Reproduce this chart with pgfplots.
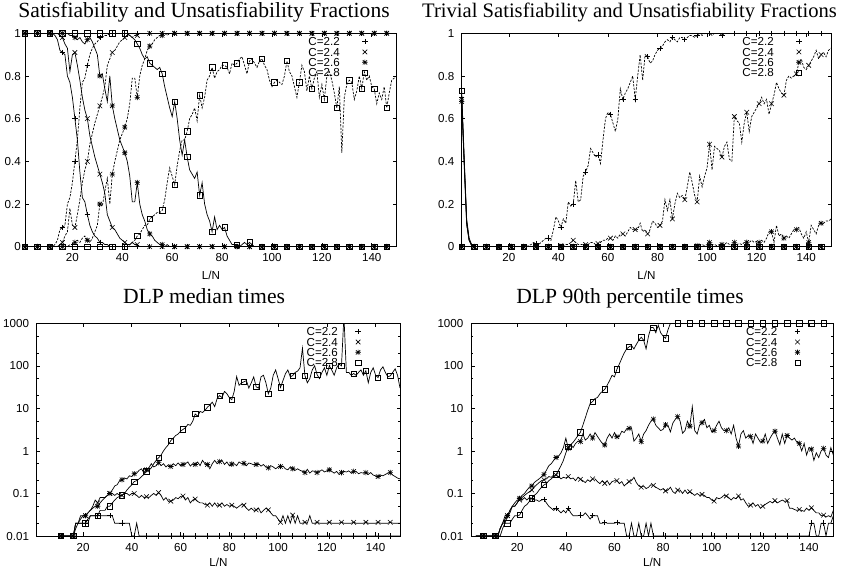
\documentclass[border=0pt]{standalone}
\usepackage{fontspec}
\setmainfont{Liberation Serif}
\newfontfamily\lsans{Liberation Sans}
\usepackage{pgfplots}
\usepackage{pgfplotstable}
\pgfplotsset{compat=1.18}

\newcommand\tfont{\lsans\fontsize{11.6bp}{12bp}\selectfont}
\newcommand\hfont{\fontsize{21.6bp}{24bp}\selectfont}

% gnuplot-style marks: asterisk (plus and cross together) and a full-size cross
\pgfdeclareplotmark{gpstar}{%
  \pgfpathmoveto{\pgfqpoint{-\pgfplotmarksize}{0pt}}\pgfpathlineto{\pgfqpoint{\pgfplotmarksize}{0pt}}%
  \pgfpathmoveto{\pgfqpoint{0pt}{-\pgfplotmarksize}}\pgfpathlineto{\pgfqpoint{0pt}{\pgfplotmarksize}}%
  \pgfpathmoveto{\pgfqpoint{-0.8\pgfplotmarksize}{-0.8\pgfplotmarksize}}\pgfpathlineto{\pgfqpoint{0.8\pgfplotmarksize}{0.8\pgfplotmarksize}}%
  \pgfpathmoveto{\pgfqpoint{-0.8\pgfplotmarksize}{0.8\pgfplotmarksize}}\pgfpathlineto{\pgfqpoint{0.8\pgfplotmarksize}{-0.8\pgfplotmarksize}}%
  \pgfusepathqstroke}
\pgfdeclareplotmark{gpx}{%
  \pgfpathmoveto{\pgfqpoint{-0.85\pgfplotmarksize}{-0.85\pgfplotmarksize}}\pgfpathlineto{\pgfqpoint{0.85\pgfplotmarksize}{0.85\pgfplotmarksize}}%
  \pgfpathmoveto{\pgfqpoint{-0.85\pgfplotmarksize}{0.85\pgfplotmarksize}}\pgfpathlineto{\pgfqpoint{0.85\pgfplotmarksize}{-0.85\pgfplotmarksize}}%
  \pgfusepathqstroke}

% Satisfiability (s) and unsatisfiability (u) fractions
% a=u(2.2) b=s(2.2) c=u(2.4) d=s(2.4) e=u(2.6) f=s(2.6) g=u(2.8) h=s(2.8)
\pgfplotstableread{
x a b c d e f g h
1 1 0 1 0 1 0 1 0
6 1 0 1 0 1 0 1 0
11 1 0 1 0 1 0 1 0
12 1 0 1 0 1 0 1 0
13 0.99 0.01 1 0 1 0 1 0
14 0.97 0.03 1 0 1 0 1 0
15 0.92 0.08 0.99 0.01 1 0 1 0
16 0.91 0.09 0.98 0.02 1 0 1 0
17 0.9 0.1 0.95 0.05 1 0 1 0
18 0.8 0.2 0.93 0.07 1 0 1 0
19 0.77 0.23 0.82 0.18 0.99 0.01 1 0
20 0.7 0.3 0.9 0.1 0.99 0.01 1 0
21 0.6 0.4 0.91 0.09 0.98 0.02 1 0
22 0.5 0.5 0.85 0.15 0.97 0.03 1 0
23 0.35 0.65 0.78 0.22 0.98 0.02 1 0
24 0.23 0.77 0.7 0.3 0.96 0.04 1 0
25 0.21 0.79 0.64 0.36 0.95 0.05 1 0
26 0.15 0.85 0.6 0.4 0.97 0.03 1 0
27 0.1 0.9 0.52 0.48 0.98 0.02 1 0
28 0.07 0.93 0.47 0.53 0.96 0.04 1 0
29 0.05 0.95 0.42 0.58 0.93 0.07 1 0
30 0.04 0.96 0.38 0.62 0.9 0.1 1 0
31 0.02 0.98 0.34 0.66 0.8 0.2 1 0
32 0.02 0.98 0.3 0.7 0.81 0.19 1 0
33 0.01 0.99 0.25 0.75 0.74 0.26 1 0
34 0.01 0.99 0.15 0.85 0.68 0.32 1 0
35 0 1 0.12 0.88 0.8 0.2 1 0
36 0 1 0.09 0.91 0.66 0.34 1 0
37 0 1 0.08 0.92 0.6 0.4 1 0
38 0 1 0.06 0.94 0.55 0.45 1 0
39 0 1 0.04 0.96 0.5 0.5 1 0
40 0 1 0.03 0.97 0.47 0.53 1 0
41 0 1 0.02 0.98 0.44 0.56 1 0
42 0 1 0.01 0.99 0.4 0.6 1 0
43 0 1 0.01 0.99 0.33 0.67 0.99 0.01
44 0 1 0.02 0.98 0.21 0.79 0.98 0.02
45 0 1 0.01 0.99 0.21 0.79 0.97 0.03
46 0 1 0.01 0.99 0.3 0.7 0.95 0.05
47 0 1 0 1 0.2 0.8 0.93 0.06
48 0 1 0 1 0.15 0.85 0.9 0.08
49 0 1 0 1 0.12 0.88 0.88 0.1
50 0 1 0 1 0.08 0.92 0.89 0.1
51 0 1 0 1 0.06 0.94 0.86 0.13
52 0 1 0 1 0.05 0.95 0.85 0.14
53 0 1 0 1 0.03 0.97 0.84 0.15
54 0 1 0 1 0.02 0.98 0.83 0.16
55 0 1 0 1 0.01 0.99 0.84 0.16
56 0 1 0 1 0.01 0.99 0.81 0.17
57 0 1 0 1 0 1 0.75 0.22
58 0 1 0 1 0.01 0.99 0.7 0.3
59 0 1 0 1 0 1 0.65 0.37
60 0 1 0 1 0 1 0.61 0.33
61 0 1 0 1 0 1 0.68 0.29
62 0 1 0 1 0 1 0.6 0.38
63 0 1 0 1 0 1 0.5 0.45
64 0 1 0 1 0 1 0.43 0.5
65 0 1 0 1 0 1 0.5 0.5
66 0 1 0 1 0 1 0.42 0.54
67 0 1 0 1 0 1 0.36 0.6
68 0 1 0 1 0 1 0.34 0.62
69 0 1 0 1 0 1 0.32 0.65
70 0 1 0 1 0 1 0.35 0.59
71 0 1 0 1 0 1 0.24 0.71
72 0 1 0 1 0 1 0.3 0.65
73 0 1 0 1 0 1 0.2 0.7
74 0 1 0 1 0 1 0.15 0.78
75 0 1 0 1 0 1 0.12 0.8
76 0 1 0 1 0 1 0.07 0.84
77 0 1 0 1 0 1 0.14 0.79
78 0 1 0 1 0 1 0.08 0.82
79 0 1 0 1 0 1 0.1 0.83
80 0 1 0 1 0 1 0.08 0.85
81 0 1 0 1 0 1 0.09 0.85
82 0 1 0 1 0 1 0.05 0.84
83 0 1 0 1 0 1 0.03 0.81
84 0 1 0 1 0 1 0.01 0.86
85 0 1 0 1 0 1 0.01 0.85
86 0 1 0 1 0 1 0.01 0.86
87 0 1 0 1 0 1 0 0.88
88 0 1 0 1 0 1 0.01 0.89
89 0 1 0 1 0 1 0.02 0.85
90 0 1 0 1 0 1 0.01 0.81
91 0 1 0 1 0 1 0.02 0.87
92 0 1 0 1 0 1 0.01 0.88
93 0 1 0 1 0 1 0 0.86
94 0 1 0 1 0 1 0 0.84
95 0 1 0 1 0 1 0 0.87
96 0 1 0 1 0 1 0 0.88
97 0 1 0 1 0 1 0 0.85
98 0 1 0 1 0 1 0 0.83
99 0 1 0 1 0 1 0 0.78
100 0 1 0 1 0 1 0 0.75
101 0 1 0 1 0 1 0 0.77
102 0 1 0 1 0 1 0 0.78
103 0 1 0 1 0 1 0 0.77
104 0 1 0 1 0 1 0 0.76
105 0 1 0 1 0 1 0 0.8
106 0 1 0 1 0 1 0 0.87
107 0 1 0 1 0 1 0 0.82
108 0 1 0 1 0 1 0 0.8
109 0 1 0 1 0 1 0 0.75
110 0 1 0 1 0 1 0 0.7
111 0 1 0 1 0 1 0 0.77
112 0 1 0 1 0 1 0 0.85
113 0 1 0 1 0 1 0 0.82
114 0 1 0 1 0 1 0 0.73
115 0 1 0 1 0 1 0 0.8
116 0 1 0 1 0 1 0 0.74
117 0 1 0 1 0 1 0 0.79
118 0 1 0 1 0 1 0 0.82
119 0 1 0 1 0 1 0 0.7
120 0 1 0 1 0 1 0 0.76
121 0 1 0 1 0 1 0 0.69
122 0 1 0 1 0 1 0 0.8
123 0 1 0 1 0 1 0 0.82
124 0 1 0 1 0 1 0 0.78
125 0 1 0 1 0 1 0 0.72
126 0 1 0 1 0 1 0 0.65
127 0 1 0 1 0 1 0 0.75
128 0 1 0 1 0 1 0 0.44
129 0 1 0 1 0 1 0 0.7
130 0 1 0 1 0 1 0 0.76
131 0 1 0 1 0 1 0 0.78
132 0 1 0 1 0 1 0 0.77
133 0 1 0 1 0 1 0 0.69
134 0 1 0 1 0 1 0 0.73
135 0 1 0 1 0 1 0 0.8
136 0 1 0 1 0 1 0 0.74
137 0 1 0 1 0 1 0 0.82
138 0 1 0 1 0 1 0 0.78
139 0 1 0 1 0 1 0 0.8
140 0 1 0 1 0 1 0 0.75
141 0 1 0 1 0 1 0 0.74
142 0 1 0 1 0 1 0 0.67
143 0 1 0 1 0 1 0 0.72
144 0 1 0 1 0 1 0 0.69
145 0 1 0 1 0 1 0 0.75
146 0 1 0 1 0 1 0 0.65
147 0 1 0 1 0 1 0 0.72
148 0 1 0 1 0 1 0 0.78
149 0 1 0 1 0 1 0 0.79
150 0 1 0 1 0 1 0 0.8
}\tTL

% Trivial fractions: a-d solid (2.2,2.4,2.6,2.8), e-h dashed (2.2,2.4,2.6,2.8)
\pgfplotstableread{
x a b c d e f g h
1 0.7 0.69 0.68 0.73 0 0 0 0
2 0.4 0.38 0.4 0.42 0 0 0 0
3 0.11 0.1 0.12 0.13 0 0 0 0
4 0.03 0.03 0.03 0.04 0 0 0 0
5 0.005 0.005 0.01 0.01 0 0 0 0
6 0 0 0 0 0 0 0 0
11 0 0 0 0 0 0 0 0
16 0 0 0 0 0 0 0 0
21 0 0 0 0 0 0 0 0
26 0 0 0 0 0 0 0 0
27 0 0 0 0 0 0 0 0
28 0 0 0 0 0.005 0 0 0
29 0 0 0 0 0.01 0 0 0
30 0 0 0 0 0.02 0 0 0
31 0 0 0 0 0.015 0 0 0
32 0 0 0 0 0.01 0 0 0
33 0 0 0 0 0.02 0 0 0
34 0 0 0 0 0.03 0 0 0
35 0 0 0 0 0.04 0 0 0
36 0 0 0 0 0.04 0 0 0
37 0 0 0 0 0.03 0 0 0
38 0 0 0 0 0.08 0 0 0
39 0 0 0 0 0.14 0 0 0
40 0 0 0 0 0.12 0 0 0
41 0 0 0 0 0.09 0.005 0 0
42 0 0 0 0 0.13 0.005 0 0
43 0 0 0 0 0.11 0.01 0 0
44 0 0 0 0 0.21 0.01 0 0
45 0 0 0 0 0.19 0.02 0 0
46 0 0 0 0 0.2 0.03 0 0
47 0 0 0 0 0.31 0.02 0 0
48 0 0 0 0 0.21 0.01 0 0
49 0 0 0 0 0.22 0.01 0 0
50 0 0 0 0 0.33 0.01 0 0
51 0 0 0 0 0.35 0.01 0 0
52 0 0 0 0 0.38 0.01 0 0
53 0 0 0 0 0.46 0.02 0 0
54 0 0 0 0 0.44 0.02 0 0
55 0 0 0 0 0.42 0.01 0 0
56 0 0 0 0 0.43 0.015 0 0
57 0 0 0 0 0.39 0.02 0 0
58 0 0 0 0 0.5 0.03 0 0
59 0 0 0 0 0.6 0.03 0 0
60 0 0 0 0 0.63 0.04 0 0
61 0 0 0 0 0.62 0.04 0 0
62 0 0 0 0 0.58 0.03 0 0
63 0 0 0 0 0.54 0.05 0 0
64 0 0 0 0 0.6 0.04 0 0
65 0 0 0 0 0.74 0.06 0 0
66 0 0 0 0 0.69 0.06 0 0
67 0 0 0 0 0.72 0.05 0 0
68 0 0 0 0 0.74 0.07 0 0
69 0 0 0 0 0.77 0.09 0 0
70 0 0 0 0 0.8 0.08 0 0
71 0 0 0 0 0.69 0.08 0 0
72 0 0 0 0 0.8 0.08 0 0
73 0 0 0 0 0.9 0.11 0 0
74 0 0 0 0 0.78 0.07 0 0
75 0 0 0 0 0.9 0.08 0 0
76 0 0 0 0 0.89 0.06 0 0
77 0 0 0 0 0.86 0.08 0 0
78 0 0 0 0 0.87 0.12 0 0
79 0 0 0 0 0.9 0.11 0 0
80 0 0 0 0 0.92 0.09 0 0
81 0 0 0 0 0.93 0.1 0 0
82 0 0 0 0 0.94 0.12 0 0
83 0 0 0 0 0.96 0.22 0 0
84 0 0 0 0 0.97 0.17 0 0
85 0 0 0 0 0.96 0.22 0 0
86 0 0 0 0 0.98 0.13 0 0
87 0 0 0 0 0.97 0.2 0 0
88 0 0 0 0 0.96 0.25 0 0
89 0 0 0 0 0.98 0.23 0 0
90 0 0 0 0 0.98 0.24 0 0
91 0 0 0 0 0.97 0.22 0 0
92 0 0 0 0 0.98 0.28 0 0
93 0 0 0 0 0.99 0.35 0 0
94 0 0 0 0 0.99 0.3 0 0
95 0 0 0 0 0.98 0.24 0 0
96 0 0 0 0 0.99 0.21 0.005 0
97 0 0 0 0 1 0.33 0.01 0
98 0 0 0 0 0.99 0.28 0.01 0
99 0 0 0 0 1 0.33 0.005 0
100 0 0 0 0 1 0.37 0.01 0
101 0 0 0 0 1 0.48 0.02 0
102 0 0 0 0 0.99 0.36 0.01 0
103 0 0 0 0 1 0.47 0.01 0
104 0 0 0 0 1 0.46 0.005 0
105 0 0 0 0 1 0.45 0.01 0
106 0 0 0 0 0.99 0.42 0.01 0
107 0 0 0 0 1 0.47 0.01 0
108 0 0 0 0 1 0.49 0.02 0
109 0 0 0 0 1 0.41 0.01 0
110 0 0 0 0 1 0.4 0.01 0
111 0 0 0 0 1 0.61 0.02 0
112 0 0 0 0 1 0.59 0.01 0
113 0 0 0 0 1 0.58 0.015 0
114 0 0 0 0 1 0.49 0.01 0
115 0 0 0 0 1 0.58 0.02 0
116 0 0 0 0 1 0.63 0.02 0
117 0 0 0 0 1 0.54 0.02 0
118 0 0 0 0 1 0.61 0.03 0
119 0 0 0 0 1 0.63 0.02 0
120 0 0 0 0 1 0.65 0.025 0
121 0 0 0 0 1 0.67 0.02 0
122 0 0 0 0 1 0.7 0.03 0
123 0 0 0 0 1 0.67 0.02 0
124 0 0 0 0 1 0.69 0.04 0
125 0 0 0 0 1 0.62 0.07 0
126 0 0 0 0 1 0.67 0.07 0
127 0 0 0 0 1 0.71 0.02 0
128 0 0 0 0 1 0.77 0.1 0
129 0 0 0 0 1 0.74 0.05 0
130 0 0 0 0 1 0.72 0.06 0
131 0 0 0 0 1 0.71 0.04 0
132 0 0 0 0 1 0.78 0.05 0
133 0 0 0 0 1 0.8 0.04 0
134 0 0 0 0 1 0.79 0.06 0
135 0 0 0 0 1 0.8 0.08 0
136 0 0 0 0 1 0.81 0.08 0
137 0 0 0 0 1 0.86 0.09 0
138 0 0 0 0 1 0.88 0.06 0
139 0 0 0 0 1 0.84 0.04 0
140 0 0 0 0 1 0.83 0.07 0
141 0 0 0 0 1 0.85 0.02 0
142 0 0 0 0 1 0.87 0.1 0
143 0 0 0 0 1 0.89 0.08 0
144 0 0 0 0 1 0.92 0.06 0
145 0 0 0 0 1 0.88 0.1 0
146 0 0 0 0 1 0.9 0.11 0
147 0 0 0 0 1 0.91 0.11 0
148 0 0 0 0 1 0.89 0.12 0
149 0 0 0 0 1 0.92 0.12 0
150 0 0 0 0 1 0.93 0.13 0
}\tTR

% DLP median times: a=2.2 b=2.4 c=2.6 d=2.8
\pgfplotstableread{
x a b c d
10 0.01 0.01 0.01 0.01
11 0.01 0.01 0.01 0.01
12 0.01 0.01 0.01 0.01
13 0.01 0.01 0.01 0.01
14 0.01 0.01 0.01 0.01
15 0.01 0.01 0.01 0.01
16 0.01 0.01 0.01 0.01
17 0.02 0.02 0.02 0.015
18 0.02 0.02 0.02 0.02
19 0.02 0.03 0.025 0.02
20 0.02 0.03 0.03 0.02
21 0.02 0.03 0.03 0.02
22 0.02 0.035 0.035 0.025
23 0.03 0.04 0.04 0.03
24 0.03 0.05 0.045 0.03
25 0.03 0.07 0.05 0.03
26 0.03 0.06 0.05 0.03
27 0.03 0.08 0.06 0.04
28 0.03 0.08 0.07 0.04
29 0.03 0.08 0.08 0.04
30 0.03 0.09 0.09 0.05
31 0.03 0.1 0.1 0.05
32 0.03 0.1 0.12 0.06
33 0.02 0.09 0.15 0.07
34 0.02 0.1 0.16 0.08
35 0.02 0.09 0.2 0.085
36 0.02 0.09 0.21 0.09
37 0.02 0.1 0.23 0.1
38 0.02 0.1 0.22 0.12
39 0.02 0.09 0.26 0.14
40 0.01 0.1 0.25 0.16
41 0.01 0.1 0.29 0.19
42 0.02 0.09 0.3 0.2
43 0.01 0.08 0.35 0.22
44 0.01 0.09 0.38 0.25
45 0.01 0.08 0.3 0.28
46 0.01 0.084 0.36 0.33
47 0.01 0.08 0.4 0.35
48 0.01 0.09 0.5 0.4
49 0.01 0.1 0.42 0.5
50 0.01 0.09 0.45 0.6
51 0.01 0.105 0.53 0.69
52 0.01 0.09 0.45 0.8
53 0.01 0.07 0.5 1.0
54 0.01 0.08 0.42 1.2
55 0.01 0.065 0.47 1.4
56 0.01 0.066 0.43 1.75
57 0.01 0.07 0.5 2.0
58 0.01 0.08 0.45 2.3
59 0.01 0.075 0.52 2.5
60 0.01 0.085 0.45 2.9
61 0.01 0.087 0.48 3.2
62 0.01 0.07 0.5 3.5
63 0.01 0.08 0.55 4.2
64 0.01 0.06 0.44 4.0
65 0.01 0.07 0.5 5.0
66 0.01 0.074 0.48 7.4
67 0.01 0.065 0.55 6.5
68 0.01 0.06 0.45 8.5
69 0.01 0.06 0.6 8
70 0.01 0.055 0.5 9
71 0.01 0.053 0.48 10.6
72 0.01 0.06 0.38 12
73 0.01 0.05 0.5 14
74 0.01 0.06 0.6 11
75 0.01 0.05 0.5 17
76 0.01 0.053 0.56 20
77 0.01 0.06 0.6 18
78 0.01 0.05 0.48 25
79 0.01 0.055 0.55 22
80 0.01 0.05 0.45 18
81 0.01 0.053 0.49 16
82 0.01 0.05 0.5 25
83 0.01 0.045 0.45 56
84 0.01 0.05 0.55 35
85 0.01 0.055 0.5 40
86 0.01 0.053 0.51 42
87 0.01 0.045 0.45 45
88 0.01 0.04 0.52 30
89 0.01 0.045 0.5 40
90 0.01 0.04 0.47 55
91 0.01 0.041 0.48 32
92 0.01 0.045 0.5 30
93 0.01 0.035 0.44 55
94 0.01 0.04 0.48 60
95 0.01 0.045 0.42 40
96 0.01 0.041 0.4 22
97 0.01 0.035 0.45 30
98 0.01 0.03 0.42 60
99 0.01 0.03 0.38 80
100 0.01 0.025 0.42 50
101 0.01 0.021 0.43 31
102 0.01 0.03 0.44 45
103 0.01 0.02 0.38 65
104 0.01 0.03 0.36 80
105 0.01 0.02 0.42 55
106 0.01 0.031 0.38 59
107 0.01 0.02 0.35 70
108 0.01 0.03 0.38 75
109 0.01 0.02 0.35 90
110 0.01 0.02 0.33 260
111 0.01 0.021 0.31 59
112 0.01 0.02 0.37 40
113 0.01 0.03 0.3 50
114 0.01 0.02 0.34 80
115 0.01 0.02 0.33 100
116 0.01 0.021 0.31 62
117 0.01 0.02 0.33 50
118 0.01 0.02 0.36 70
119 0.01 0.02 0.32 90
120 0.01 0.02 0.34 60
121 0.01 0.021 0.36 100
122 0.01 0.02 0.33 80
123 0.01 0.02 0.3 60
124 0.01 0.02 0.33 90
125 0.01 0.02 0.28 110
126 0.01 0.021 0.31 100
127 0.01 0.02 0.33 1500
128 0.01 0.02 0.32 70
129 0.01 0.02 0.34 70
130 0.01 0.02 0.3 60
131 0.01 0.021 0.33 66
132 0.01 0.02 0.33 60
133 0.01 0.02 0.29 70
134 0.01 0.02 0.31 80
135 0.01 0.02 0.3 60
136 0.01 0.021 0.31 77
137 0.01 0.02 0.28 40
138 0.01 0.02 0.31 70
139 0.01 0.02 0.27 90
140 0.01 0.02 0.26 60
141 0.01 0.021 0.25 53
142 0.01 0.02 0.27 80
143 0.01 0.02 0.26 95
144 0.01 0.02 0.28 70
145 0.01 0.02 0.3 55
146 0.01 0.021 0.31 58
147 0.01 0.02 0.27 70
148 0.01 0.02 0.25 85
149 0.01 0.02 0.23 60
150 0.01 0.02 0.22 30
}\tBL

% DLP 90th percentile times: a=2.2 b=2.4 c=2.6 d=2.8
\pgfplotstableread{
x a b c d
3 0.01 0.01 0.01 0.01
4 0.01 0.01 0.01 0.01
5 0.01 0.01 0.01 0.01
6 0.01 0.01 0.01 0.01
7 0.01 0.01 0.01 0.01
8 0.01 0.01 0.01 0.01
9 0.01 0.01 0.01 0.01
10 0.01 0.01 0.01 0.01
11 0.01 0.01 0.01 0.01
12 0.01 0.01 0.01 0.01
13 0.015 0.015 0.015 0.01
14 0.02 0.02 0.02 0.015
15 0.02 0.03 0.025 0.02
16 0.03 0.03 0.03 0.02
17 0.04 0.04 0.035 0.02
18 0.05 0.05 0.05 0.025
19 0.05 0.06 0.05 0.03
20 0.06 0.07 0.06 0.03
21 0.075 0.07 0.077 0.031
22 0.07 0.08 0.09 0.04
23 0.08 0.09 0.1 0.05
24 0.07 0.1 0.12 0.055
25 0.08 0.11 0.14 0.065
26 0.077 0.12 0.15 0.077
27 0.07 0.14 0.18 0.09
28 0.07 0.16 0.2 0.1
29 0.065 0.18 0.22 0.12
30 0.07 0.2 0.25 0.14
31 0.073 0.21 0.28 0.158
32 0.06 0.22 0.35 0.17
33 0.05 0.25 0.45 0.2
34 0.045 0.24 0.5 0.22
35 0.04 0.27 0.6 0.25
36 0.045 0.27 0.7 0.28
37 0.04 0.25 0.75 0.35
38 0.035 0.22 0.9 0.45
39 0.04 0.24 1.2 0.6
40 0.035 0.23 2 0.9
41 0.045 0.25 1.15 1.26
42 0.035 0.22 1.4 1.4
43 0.03 0.23 1.2 1.6
44 0.03 0.2 1.5 1.9
45 0.03 0.24 1.7 2.3
46 0.031 0.215 1.66 2.76
47 0.03 0.2 2.5 4
48 0.035 0.18 1.8 6
49 0.03 0.21 2 9
50 0.025 0.19 2.5 13
51 0.03 0.22 2 14.5
52 0.03 0.22 2.7 17
53 0.03 0.19 2.2 18
54 0.02 0.17 1.8 22
55 0.02 0.2 1.5 25
56 0.021 0.173 1.38 28
57 0.02 0.2 2 35
58 0.02 0.16 2.5 45
59 0.02 0.19 2 60
60 0.02 0.2 2.7 55
61 0.021 0.2 2.15 83
62 0.02 0.17 2.2 110
63 0.02 0.19 2.9 150
64 0.02 0.15 2.7 200
65 0.01 0.17 3.3 250
66 0.01 0.19 3.4 280
67 0.02 0.2 3.5 300
68 0.01 0.24 1.7 250
69 0.01 0.18 2 320
70 0.02 0.15 2.5 400
71 0.01 0.14 1.66 470
72 0.01 0.15 2.5 400
73 0.02 0.13 3 250
74 0.01 0.14 4 500
75 0.02 0.16 5 800
76 0.01 0.155 5.6 790
77 0.01 0.14 4 600
78 0.01 0.13 3.5 900
79 0.01 0.12 3 600
80 0.01 0.13 3.2 500
81 0.01 0.115 4.1 445
82 0.01 0.12 4 700
83 0.01 0.14 2.8 1000
84 0.01 0.11 4.5 1000
85 0.01 0.1 5.5 1000
86 0.01 0.12 6.4 1000
87 0.01 0.12 5 1000
88 0.01 0.1 2.6 1000
89 0.01 0.12 3 1000
90 0.01 0.1 5 1000
91 0.01 0.11 3.8 1000
92 0.01 0.1 11 1000
93 0.01 0.09 3 1000
94 0.01 0.1 2.5 1000
95 0.01 0.09 4 1000
96 0.01 0.095 4.6 1000
97 0.01 0.09 5.5 1000
98 0.01 0.08 3.5 1000
99 0.01 0.08 4 1000
100 0.01 0.07 2.8 1000
101 0.01 0.066 3 1000
102 0.01 0.08 4 1000
103 0.01 0.075 5 1000
104 0.01 0.08 3.5 1000
105 0.01 0.09 3 1000
106 0.01 0.087 3 1000
107 0.01 0.08 3.5 1000
108 0.01 0.07 2.5 1000
109 0.01 0.08 4 1000
110 0.01 0.075 2 1000
111 0.01 0.087 1.3 1000
112 0.01 0.07 2.5 1000
113 0.01 0.075 3 1000
114 0.01 0.06 2 1000
115 0.01 0.05 2.3 1000
116 0.01 0.053 2.2 1000
117 0.01 0.06 1.5 1000
118 0.01 0.05 2.5 1000
119 0.01 0.055 2 1000
120 0.01 0.045 1.6 1000
121 0.01 0.05 1.7 1000
122 0.01 0.055 2.5 1000
123 0.01 0.06 1.5 1000
124 0.01 0.065 2 1000
125 0.01 0.06 2.5 1000
126 0.01 0.068 2.9 1000
127 0.01 0.06 2 1000
128 0.01 0.065 1.4 1000
129 0.01 0.07 2.5 1000
130 0.01 0.065 1.5 1000
131 0.01 0.068 2.3 1000
132 0.01 0.045 2 1000
133 0.01 0.045 1.8 1000
134 0.01 0.042 2 1000
135 0.01 0.04 1.6 1000
136 0.01 0.042 1.5 1000
137 0.01 0.04 1 1000
138 0.01 0.038 1.5 1000
139 0.01 0.045 0.8 1000
140 0.01 0.04 1.2 1000
141 0.02 0.046 1.1 1000
142 0.02 0.04 0.6 1000
143 0.01 0.035 0.9 1000
144 0.01 0.035 0.7 1000
145 0.02 0.03 1 1000
146 0.02 0.031 1.15 1000
147 0.01 0.028 0.8 1000
148 0.02 0.03 0.7 1000
149 0.02 0.028 1.2 1000
150 0.03 0.04 0.8 1000
}\tBR

\pgfplotsset{
  gpaxis/.style={
    scale only axis, xmin=1, xmax=150, clip=true,
    axis line style={black, line width=0.8bp},
    tick align=inside, tick pos=both, major tick length=3.5bp, minor tick length=2bp,
    every tick/.style={black, line width=0.6bp},
    xtick={20,40,...,140}, xticklabels={20,40,60,80,100,120,140},
    tick label style={font=\tfont},
    xticklabel style={inner sep=0pt, text height=8.2bp, text depth=0pt, anchor=north},
    yticklabel style={inner sep=0pt, text height=8.2bp, text depth=0pt, anchor=east},
    xlabel={L/N},
    legend cell align=right, legend plot pos=right,
    legend style={draw=none, fill=none, at={(1,1)}, anchor=north east,
      inner sep=0pt, outer sep=0pt, row sep=2.1bp, column sep=0pt, font=\tfont,
      nodes={inner sep=0pt, text height=8.2bp, text depth=0pt}},
  },
  ln/.style={black, line width=0.7bp, no marks, forget plot},
  ld/.style={ln, dash pattern=on 2.2bp off 1.4bp},
  pts/.style={only marks, mark size=2.7bp, mark options={solid, black, line width=0.6bp},
    forget plot, x filter/.expression={abs(mod(x-1,5))<0.1 ? x : nan}},
  lg/.style={only marks, mark size=2.7bp, mark options={solid, black, line width=0.6bp}},
}

% one curve: line style, mark, column, table
\newcommand\gpcurve[4]{%
  \addplot[#1] table[x=x,y=#3]{#4};
  \addplot[pts, mark=#2] table[x=x,y=#3]{#4};}

\newcommand\gplegend{%
  \addlegendimage{lg, mark=+}\addlegendentry{C=2.2}
  \addlegendimage{lg, mark=gpx}\addlegendentry{C=2.4}
  \addlegendimage{lg, mark=gpstar}\addlegendentry{C=2.6}
  \addlegendimage{lg, mark=square}\addlegendentry{C=2.8}}

\begin{document}
\begin{tikzpicture}[x=1bp, y=1bp]
\useasboundingbox (0,0) rectangle (842,569);

% ---- top left ----
\begin{axis}[gpaxis, at={(25bp,322.3bp)}, anchor=south west,
  width=371.7bp, height=213.4bp,
  ymin=0, ymax=1,
  ytick={0,0.2,0.4,0.6,0.8,1}, yticklabels={0,0.2,0.4,0.6,0.8,1},
  xticklabel style={yshift=-6.5bp},
  yticklabel style={xshift=-4bp},
  every axis x label/.style={at={(axis description cs:0.5,0)}, anchor=center,
    yshift=-28.3bp, font=\tfont, inner sep=0pt},
  legend image code/.code={\path (0bp,0bp) (25bp,0bp); \draw[#1] plot coordinates {(25bp,0bp)};},
  legend style={xshift=-29.1bp, yshift=-4.3bp}]
\gplegend
\gpcurve{ln}{+}{a}{\tTL}
\gpcurve{ld}{+}{b}{\tTL}
\gpcurve{ln}{gpx}{c}{\tTL}
\gpcurve{ld}{gpx}{d}{\tTL}
\gpcurve{ln}{gpstar}{e}{\tTL}
\gpcurve{ld}{gpstar}{f}{\tTL}
\gpcurve{ln}{square}{g}{\tTL}
\gpcurve{ld}{square}{h}{\tTL}
\end{axis}

% ---- top right ----
\begin{axis}[gpaxis, at={(461.7bp,322.3bp)}, anchor=south west,
  width=369.3bp, height=213.4bp,
  ymin=0, ymax=1,
  ytick={0,0.2,0.4,0.6,0.8,1}, yticklabels={0,0.2,0.4,0.6,0.8,1},
  xticklabel style={yshift=-6.5bp},
  yticklabel style={xshift=-7.3bp},
  every axis x label/.style={at={(axis description cs:0.5,0)}, anchor=center,
    yshift=-28.3bp, font=\tfont, inner sep=0pt},
  legend image code/.code={\path (0bp,0bp) (25bp,0bp); \draw[#1] plot coordinates {(25bp,0bp)};},
  legend style={xshift=-29.4bp, yshift=-4.3bp}]
\gplegend
\gpcurve{ln}{+}{a}{\tTR}
\gpcurve{ln}{gpx}{b}{\tTR}
\gpcurve{ln}{gpstar}{c}{\tTR}
\gpcurve{ln}{square}{d}{\tTR}
\gpcurve{ld}{+}{e}{\tTR}
\gpcurve{ld}{gpx}{f}{\tTR}
\gpcurve{ld}{gpstar}{g}{\tTR}
\gpcurve{ld}{square}{h}{\tTR}
\end{axis}

% ---- bottom left ----
\begin{axis}[gpaxis, ymode=log, at={(36.7bp,33bp)}, anchor=south west,
  width=363.3bp, height=212.7bp,
  ymin=0.01, ymax=1000,
  ytick={0.01,0.1,1,10,100,1000}, yticklabels={0.01,0.1,1,10,100,1000},
  minor ytick={0.02,0.05,0.2,0.5,2,5,20,50,200,500},
  xticklabel style={yshift=-7.2bp},
  yticklabel style={xshift=-7.5bp},
  every axis x label/.style={at={(axis description cs:0.5,0)}, anchor=center,
    yshift=-26.7bp, font=\tfont, inner sep=0pt},
  legend image code/.code={\path (0bp,0bp) (20bp,0bp); \draw[#1] plot coordinates {(20bp,0bp)};},
  legend style={xshift=-39.2bp, yshift=-4.3bp}]
\gplegend
\gpcurve{ln}{+}{a}{\tBL}
\gpcurve{ln}{gpx}{b}{\tBL}
\gpcurve{ln}{gpstar}{c}{\tBL}
\gpcurve{ln}{square}{d}{\tBL}
\end{axis}

% ---- bottom right ----
\begin{axis}[gpaxis, ymode=log, at={(471bp,33bp)}, anchor=south west,
  width=362.3bp, height=212.7bp,
  ymin=0.01, ymax=1000,
  ytick={0.01,0.1,1,10,100,1000}, yticklabels={0.01,0.1,1,10,100,1000},
  minor ytick={0.02,0.05,0.2,0.5,2,5,20,50,200,500},
  xticklabel style={yshift=-7.2bp},
  yticklabel style={xshift=-7.5bp},
  every axis x label/.style={at={(axis description cs:0.5,0)}, anchor=center,
    yshift=-26.7bp, font=\tfont, inner sep=0pt},
  legend image code/.code={\path (0bp,0bp) (20bp,0bp); \draw[#1] plot coordinates {(20bp,0bp)};},
  legend style={xshift=-33.1bp, yshift=-4.3bp}]
\gplegend
\gpcurve{ln}{+}{a}{\tBR}
\gpcurve{ln}{gpx}{b}{\tBR}
\gpcurve{ln}{gpstar}{c}{\tBR}
\gpcurve{ln}{square}{d}{\tBR}
\end{axis}

% ---- titles ----
\node[font=\hfont, inner sep=0pt, anchor=base] at (204,551.5) {Satisfiability and Unsatisfiability Fractions};
\node[font=\fontsize{20.6bp}{23bp}\selectfont, inner sep=0pt, anchor=base west] at (422,551.5) {Trivial Satisfiability and Unsatisfiability Fractions};
\node[font=\hfont, inner sep=0pt, anchor=base] at (204,265) {DLP median times};
\node[font=\hfont, inner sep=0pt, anchor=base] at (630,265) {DLP 90th percentile times};
\end{tikzpicture}
\end{document}
